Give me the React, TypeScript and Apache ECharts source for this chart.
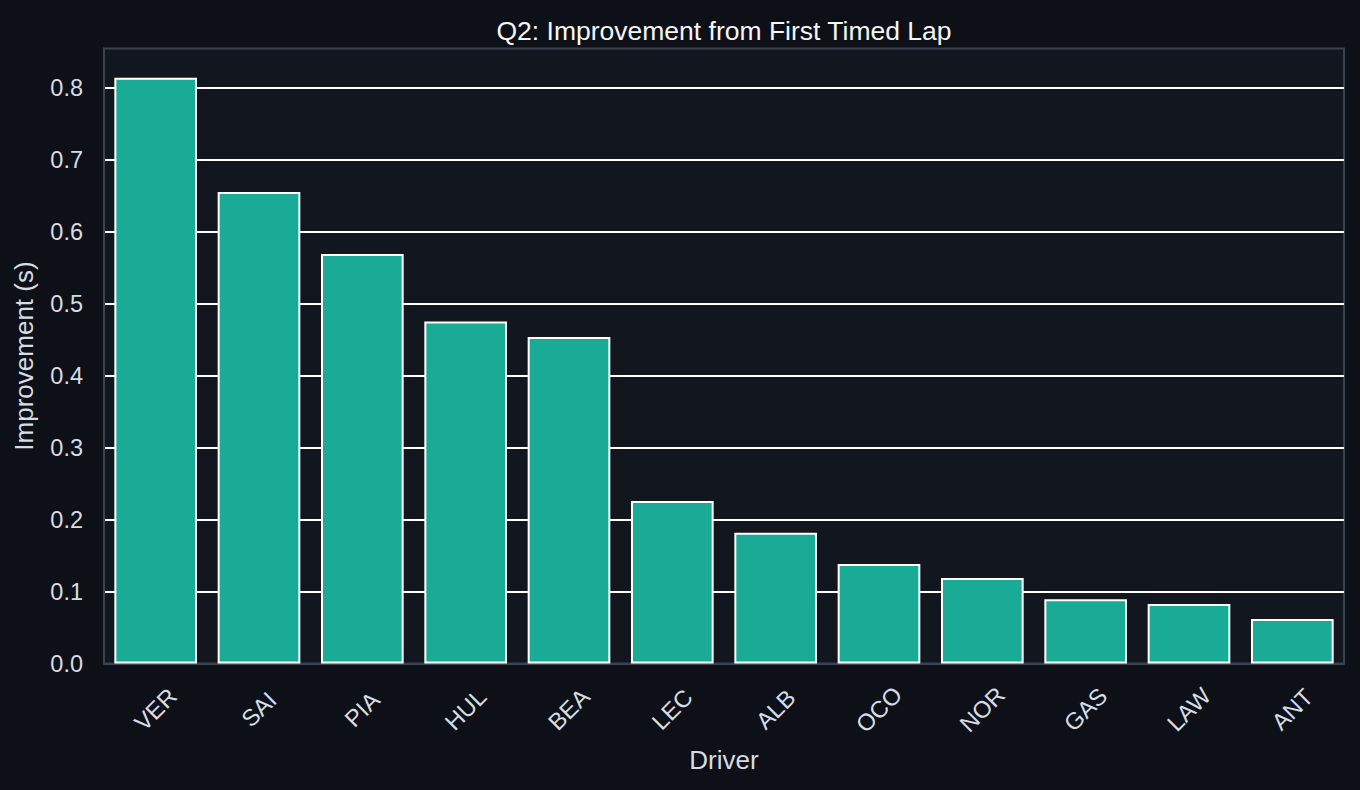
import React, { useEffect, useRef } from "react";
import * as echarts from "echarts";

const drivers = ["VER", "SAI", "PIA", "HUL", "BEA", "LEC", "ALB", "OCO", "NOR", "GAS", "LAW", "ANT"];
const improvement = [0.8137, 0.655, 0.569, 0.475, 0.4536, 0.2258, 0.1817, 0.1382, 0.1188, 0.0892, 0.0827, 0.0618];
const yMax = 0.8544;

const FONT = "'Liberation Sans', Arial, Helvetica, sans-serif";
const TEXT = "#d6dce4";

export default function App() {
  const ref = useRef<HTMLDivElement>(null);
  useEffect(() => {
    if (!ref.current) return;
    const chart = echarts.init(ref.current, null, { renderer: "svg" });
    chart.setOption({
      animation: false,
      backgroundColor: "#0d1017",
      textStyle: { fontFamily: FONT },
      title: {
        text: "Q2: Improvement from First Timed Lap",
        left: 719,
        textAlign: "center",
        top: 12,
        textStyle: { color: "#f4f6f8", fontSize: 26.5, fontWeight: "normal", fontFamily: FONT },
      },
      grid: {
        left: 104,
        top: 48.5,
        right: 16,
        bottom: 126.5,
        show: true,
        backgroundColor: "#12171f",
        borderColor: "#3a4250",
        borderWidth: 2,
      },
      xAxis: {
        type: "category",
        data: drivers,
        axisLine: { show: true, lineStyle: { color: "#3a4250", width: 2 } },
        axisTick: { show: false },
        axisLabel: {
          rotate: 45,
          align: "center",
          verticalAlign: "middle",
          margin: 46,
          fontSize: 23.5,
          color: TEXT,
          fontFamily: FONT,
        },
        name: "Driver",
        nameLocation: "middle",
        nameGap: 96,
        nameTextStyle: { color: TEXT, fontSize: 26, verticalAlign: "middle", fontFamily: FONT },
      },
      yAxis: {
        type: "value",
        min: 0,
        max: yMax,
        interval: 0.1,
        axisLine: { show: true, lineStyle: { color: "#3a4250", width: 2 } },
        axisTick: { show: false },
        axisLabel: {
          margin: 21,
          fontSize: 23.5,
          color: TEXT,
          fontFamily: FONT,
          formatter: (v: number) => (v > 0.81 ? "" : v.toFixed(1)),
        },
        splitLine: {
          show: true,
          showMinLine: false,
          showMaxLine: false,
          lineStyle: { color: "#ffffff", width: 2 },
        },
        name: "Improvement (s)",
        nameLocation: "middle",
        nameRotate: 90,
        nameGap: 80,
        nameTextStyle: { color: TEXT, fontSize: 26, verticalAlign: "middle", fontFamily: FONT },
      },
      series: [
        {
          type: "bar",
          data: improvement,
          barWidth: "80%",
          itemStyle: { color: "#1aab97", borderColor: "#ffffff", borderWidth: 2 },
        },
      ],
    });
    return () => chart.dispose();
  }, []);
  return (
    <div
      ref={ref}
      style={{ position: "fixed", left: 0, top: 0, width: 1360, height: 790 }}
    />
  );
}
